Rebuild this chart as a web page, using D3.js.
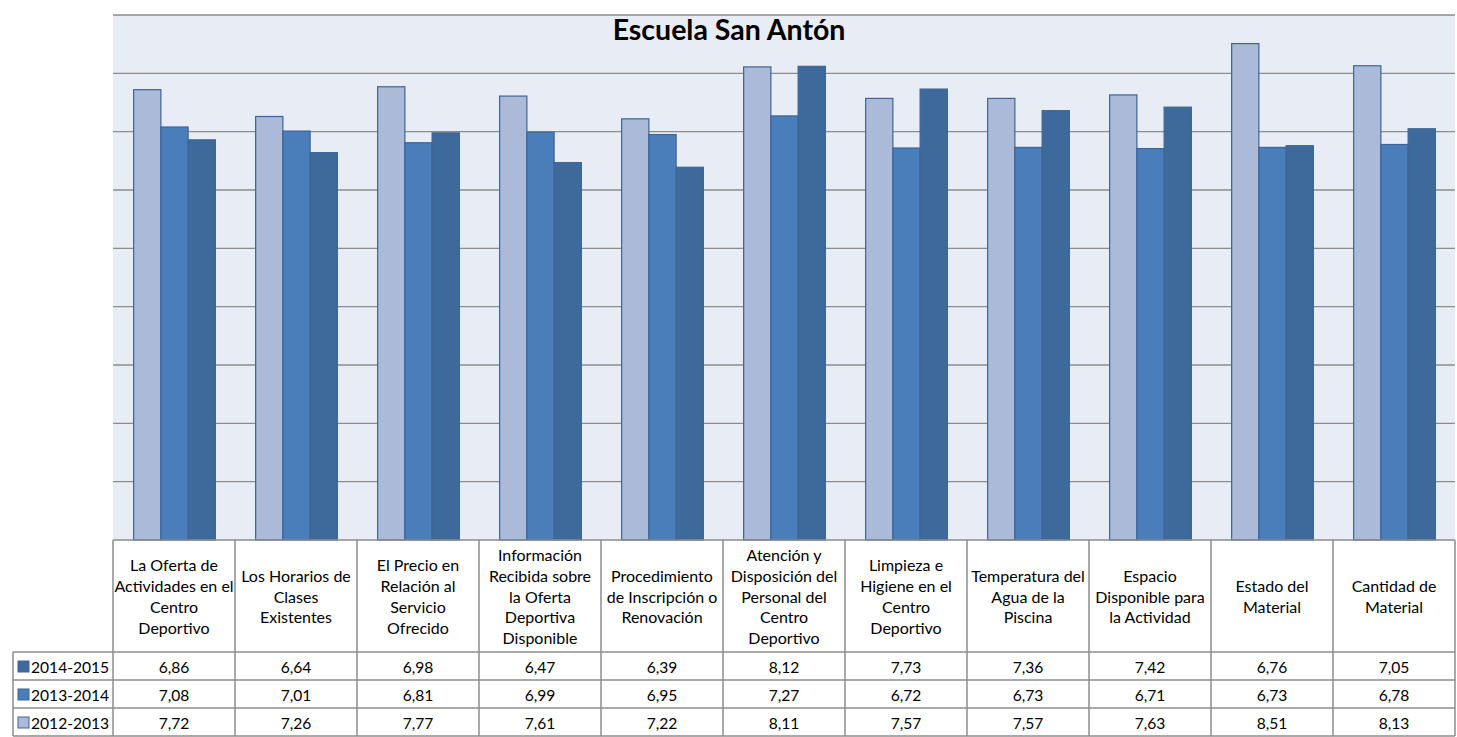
<!DOCTYPE html>
<html lang="es">
<head>
  <meta charset="UTF-8">
  <title>Escuela San Antón</title>
  <script src="https://d3js.org/d3.v7.min.js"></script>
  <style>
    body { margin: 0; overflow: hidden; background: #fff; }
    svg { display: block; font-family: Lato, "Open Sans", sans-serif; }
  </style>
</head>
<body>
  <svg id="chart" width="1457" height="737"></svg>

  <script>
    // categories (line breaks as in the original table header)
    const categories = [
      "La Oferta de\nActividades en el\nCentro\nDeportivo",
      "Los Horarios de\nClases\nExistentes",
      "El Precio en\nRelación al\nServicio\nOfrecido",
      "Información\nRecibida sobre\nla Oferta\nDeportiva\nDisponible",
      "Procedimiento\nde Inscripción o\nRenovación",
      "Atención y\nDisposición del\nPersonal del\nCentro\nDeportivo",
      "Limpieza e\nHigiene en el\nCentro\nDeportivo",
      "Temperatura del\nAgua de la\nPiscina",
      "Espacio\nDisponible para\nla Actividad",
      "Estado del\nMaterial",
      "Cantidad de\nMaterial"
    ];
    const seriesNames = ["2012-2013", "2013-2014", "2014-2015"];
    const v2012 = [7.72, 7.26, 7.77, 7.61, 7.22, 8.11, 7.57, 7.57, 7.63, 8.51, 8.13];
    const v2013 = [7.08, 7.01, 6.81, 6.99, 6.95, 7.27, 6.72, 6.73, 6.71, 6.73, 6.78];
    const v2014 = [6.86, 6.64, 6.98, 6.47, 6.39, 8.12, 7.73, 7.36, 7.42, 6.76, 7.05];
    const yTicks = [0, 1, 2, 3, 4, 5, 6, 7, 8, 9];

    const values = [v2012, v2013, v2014];
    const colors = { "2012-2013": "#aabad8", "2013-2014": "#4a7ebb", "2014-2015": "#3e699b" };
    const tableOrder = ["2014-2015", "2013-2014", "2012-2013"]; // rows top to bottom

    const svg = d3.select("#chart");
    const plotLeft = 113, plotRight = 1455, plotTop = 15, plotBottom = 540;
    const rowH = 28, headH = 112, legendLeft = 13;
    const gridColor = "#8c8c8c";
    const fs = 15.6;

    const x0 = d3.scaleBand().domain(d3.range(categories.length)).range([plotLeft, plotRight]);
    const step = x0.bandwidth();
    const x1 = d3.scaleBand().domain(seriesNames).range([step * 0.165, step * 0.835]);
    const y = d3.scaleLinear().domain([0, 9]).range([plotBottom, plotTop]);

    // plot background
    svg.append("rect")
      .attr("x", plotLeft).attr("y", plotTop)
      .attr("width", plotRight - plotLeft).attr("height", plotBottom - plotTop)
      .attr("fill", "#e8ecf4");

    // gridlines
    svg.append("g").selectAll("line")
      .data(yTicks.filter(d => d > 0))
      .join("line")
      .attr("x1", plotLeft).attr("x2", plotRight)
      .attr("y1", d => y(d)).attr("y2", d => y(d))
      .attr("stroke", gridColor).attr("stroke-width", 1.3);

    // bars
    const groups = svg.append("g").selectAll("g")
      .data(categories.map((c, i) => i))
      .join("g")
      .attr("transform", i => `translate(${x0(i)},0)`);

    groups.selectAll("rect")
      .data(i => seriesNames.map((s, k) => ({ s, v: values[k][i] })))
      .join("rect")
      .attr("x", d => x1(d.s) + 0.5)
      .attr("width", x1.bandwidth())
      .attr("y", d => y(d.v))
      .attr("height", d => plotBottom - y(d.v))
      .attr("fill", d => colors[d.s])
      .attr("stroke", "#3f6594")
      .attr("stroke-width", 1.2);

    // title
    svg.append("text")
      .attr("x", 729).attr("y", 40)
      .attr("text-anchor", "middle")
      .attr("font-size", 28.5).attr("font-weight", "bold")
      .attr("fill", "#000")
      .text("Escuela San Antón");

    // data table
    const table = svg.append("g");
    const tBottom = plotBottom + headH + rowH * 3;

    // header cells text
    const lineH = 20.8;
    categories.forEach((c, i) => {
      const lines = c.split("\n");
      const cy = plotBottom + headH / 2 + 1;
      const t = table.append("text")
        .attr("text-anchor", "middle")
        .attr("font-size", 16)
        .attr("fill", "#000");
      lines.forEach((ln, j) => {
        t.append("tspan")
          .attr("x", x0(i) + step / 2)
          .attr("y", cy + (j - (lines.length - 1) / 2) * lineH + 5.5)
          .text(ln);
      });
    });

    // value rows
    tableOrder.forEach((s, r) => {
      const k = seriesNames.indexOf(s);
      const ry = plotBottom + headH + r * rowH;
      table.append("rect")
        .attr("x", legendLeft + 5).attr("y", ry + 9)
        .attr("width", 11).attr("height", 11)
        .attr("fill", colors[s]).attr("stroke", "#3f6594").attr("stroke-width", 1);
      table.append("text")
        .attr("x", legendLeft + 18).attr("y", ry + 21)
        .attr("font-size", fs).attr("fill", "#000")
        .text(s);
      table.selectAll(null)
        .data(values[k])
        .join("text")
        .attr("x", (d, i) => x0(i) + step / 2)
        .attr("y", ry + 21)
        .attr("text-anchor", "middle")
        .attr("font-size", fs).attr("fill", "#000")
        .text(d => d3.format(".2f")(d).replace(".", ","));
    });

    // table grid
    const hLines = [
      [plotLeft, plotBottom], [legendLeft, plotBottom + headH],
      [legendLeft, plotBottom + headH + rowH], [legendLeft, plotBottom + headH + 2 * rowH],
      [legendLeft, tBottom]
    ];
    table.selectAll("line.h")
      .data(hLines)
      .join("line")
      .attr("x1", d => d[0]).attr("x2", plotRight)
      .attr("y1", d => d[1]).attr("y2", d => d[1])
      .attr("stroke", gridColor).attr("stroke-width", 1.5);

    table.selectAll("line.v")
      .data(d3.range(categories.length + 1))
      .join("line")
      .attr("x1", i => plotLeft + i * step).attr("x2", i => plotLeft + i * step)
      .attr("y1", plotBottom).attr("y2", tBottom)
      .attr("stroke", gridColor).attr("stroke-width", 1.5);

    table.append("line")
      .attr("x1", legendLeft).attr("x2", legendLeft)
      .attr("y1", plotBottom + headH).attr("y2", tBottom)
      .attr("stroke", gridColor).attr("stroke-width", 1.5);
  </script>
</body>
</html>
